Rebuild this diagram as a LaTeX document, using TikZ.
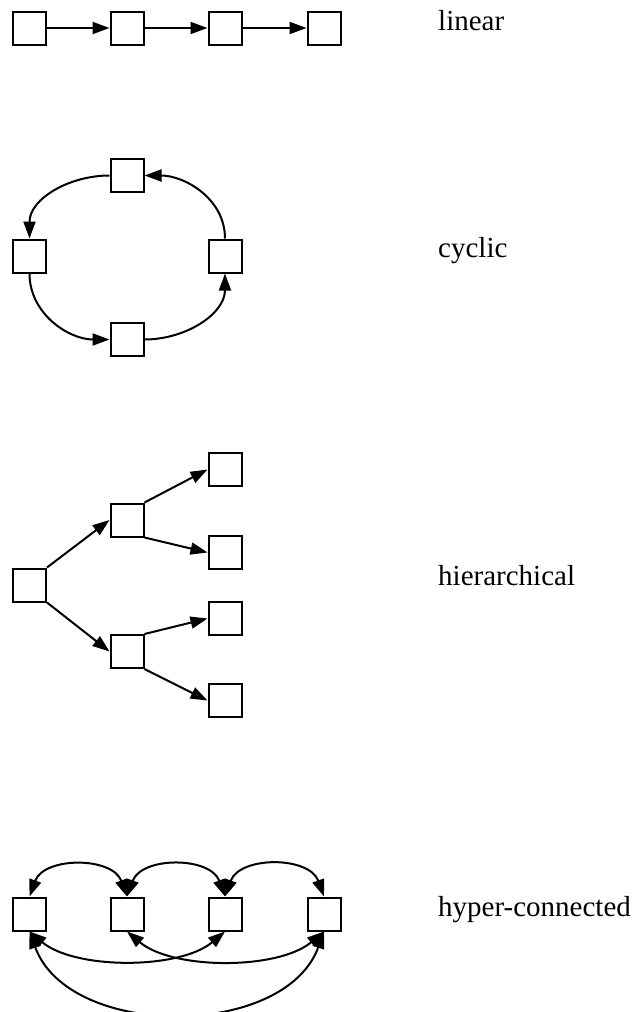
\documentclass[tikz,border=0pt]{standalone}
\usepackage{fontspec}
\setmainfont{Liberation Serif}
\usetikzlibrary{arrows.meta}
\begin{document}
\begin{tikzpicture}[x=1pt,y=1pt,
  box/.style={draw,line width=2pt,minimum size=33pt,inner sep=0pt,fill=white},
  conn/.style={line width=2pt,-{Triangle[length=17pt,width=12pt]}},
  bconn/.style={line width=2pt,{Triangle[length=17pt,width=12pt]}-{Triangle[length=17pt,width=12pt]}},
  lbl/.style={anchor=base west,inner sep=0pt,font=\fontsize{29}{34}\selectfont}]
\useasboundingbox (0,0) rectangle (635,-1012);
% linear
\node[box] (a1) at (29.5,-28) {};
\node[box] (a2) at (127,-28) {};
\node[box] (a3) at (225,-28) {};
\node[box] (a4) at (324,-28) {};
\draw[conn] (a1.east) -- (a2.west);
\draw[conn] (a2.east) -- (a3.west);
\draw[conn] (a3.east) -- (a4.west);
\node[lbl] (tlin) at (438,-30) {linear};
% cyclic
\node[box] (ct) at (127,-175.5) {};
\node[box] (cl) at (29.5,-256) {};
\node[box] (cr) at (225,-256) {};
\node[box] (cb) at (127,-339.5) {};
\draw[conn] (ct.west) to[out=180,in=90] (cl.north);
\draw[conn] (cl.south) to[out=-90,in=180] (cb.west);
\draw[conn] (cb.east) to[out=0,in=-90] (cr.south);
\draw[conn] (cr.north) to[out=90,in=0] (ct.east);
\node[lbl] (tcyc) at (438,-257) {cyclic};
% hierarchical
\node[box] (hr) at (29.5,-585) {};
\node[box] (hu) at (127,-520) {};
\node[box] (hl) at (127,-651.5) {};
\node[box] (l1) at (225,-469.5) {};
\node[box] (l2) at (225,-552.5) {};
\node[box] (l3) at (225,-618.5) {};
\node[box] (l4) at (225,-700.5) {};
\draw[conn] (hr.north east) -- (hu.west);
\draw[conn] (hr.south east) -- (hl.west);
\draw[conn] (hu.north east) -- (l1.west);
\draw[conn] (hu.south east) -- (l2.west);
\draw[conn] (hl.north east) -- (l3.west);
\draw[conn] (hl.south east) -- (l4.west);
\node[lbl] (thier) at (438,-585) {hierarchical};
% hyper-connected
\node[box] (p1) at (29.5,-914) {};
\node[box] (p2) at (127,-914) {};
\node[box] (p3) at (225,-914) {};
\node[box] (p4) at (324,-914) {};
\draw[bconn] (p1.north) to[out=70,in=110,looseness=1.12] (p2.north);
\draw[bconn] (p2.north) to[out=70,in=110,looseness=1.12] (p3.north);
\draw[bconn] (p3.north) to[out=70,in=110,looseness=1.12] (p4.north);
\draw[bconn] (p1.south) to[out=-40,in=-140,looseness=0.78] (p3.south);
\draw[bconn] (p2.south) to[out=-40,in=-140,looseness=0.78] (p4.south);
\draw[bconn] (p1.south) to[out=-70,in=-110] (p4.south);
\node[lbl] (thyp) at (438,-916) {hyper-connected};
\end{tikzpicture}
\end{document}
